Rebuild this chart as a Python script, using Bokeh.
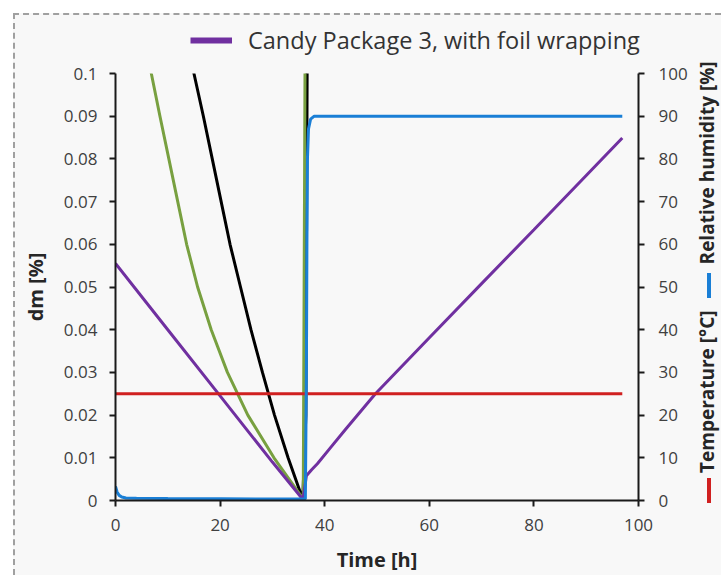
from bokeh.plotting import figure
from bokeh.layouts import column, row
from bokeh.models import Range1d, LinearAxis, FixedTicker, Legend, LegendItem, Div
from bokeh.embed import file_html
from bokeh.resources import INLINE

# ---- data ----
x_ticks = [0, 20, 40, 60, 80, 100]
y_ticks = [0, 0.01, 0.02, 0.03, 0.04, 0.05, 0.06, 0.07, 0.08, 0.09, 0.1]
y_tick_labels = ["0", "0.01", "0.02", "0.03", "0.04", "0.05", "0.06", "0.07", "0.08", "0.09", "0.1"]
rh_ticks = [0, 10, 20, 30, 40, 50, 60, 70, 80, 90, 100]

# Candy Package 3, with foil wrapping (dm [%])
purple_t = [0, 10, 20, 30, 35.8, 36.0, 36.5, 37.5, 38.6, 41, 44, 49.7, 60, 70, 80, 90, 96.9]
purple_dm = [0.0555, 0.0400, 0.0245, 0.0090, 0.0003, 0.0015, 0.0058, 0.0072, 0.0086,
             0.0122, 0.0167, 0.025, 0.0381, 0.0508, 0.0634, 0.0761, 0.0849]

# green series (dm [%])
green_t = [5.5, 6.85, 8.5, 10.2, 11.9, 13.6, 15.7, 18.3, 21.4, 25.3, 30.3, 35.9, 36.3]
green_dm = [0.11, 0.1, 0.09, 0.08, 0.07, 0.06, 0.05, 0.04, 0.03, 0.02, 0.01, 0.0003, 0.12]

# black series (dm [%])
black_t = [14.1, 15.0, 16.8, 18.5, 20.2, 21.9, 23.9, 25.9, 28.1, 30.4, 33.0, 35.8, 36.4, 36.7]
black_dm = [0.105, 0.1, 0.09, 0.08, 0.07, 0.06, 0.05, 0.04, 0.03, 0.02, 0.01, 0.0003, 0.02, 0.12]

# Relative humidity [%]
rh_t = [0, 0.3, 0.7, 1.2, 2, 4, 10, 20, 30, 36.3, 36.5, 36.6, 36.7, 36.9, 37.3, 38, 50, 70, 90, 96.9]
rh_val = [3.3, 2.0, 1.2, 0.8, 0.6, 0.5, 0.45, 0.4, 0.35, 0.35, 30, 60, 80, 87, 89.3, 90, 90, 90, 90, 90]

# Temperature [°C]
temp_t = [0, 96.9]
temp_val = [25, 25]

legend_label = "Candy Package 3, with foil wrapping"
x_title = "Time [h]"
y_title = "dm [%]"
temp_title = "Temperature [°C]"
rh_title = "Relative humidity [%]"

# ---- styles ----
PURPLE = "#7030a0"
GREEN = "#78a040"
BLACK = "#000000"
BLUE = "#1a7fd6"
RED = "#d02020"
TXT = "#404040"
LBL = "#262626"
BG = "#f8f8f8"
FONT = "Open Sans"


def blank(fig):
    fig.background_fill_color = BG
    fig.border_fill_color = BG
    fig.outline_line_color = None
    fig.grid.visible = False


# ---- main chart ----
p = figure(width=678, height=515, x_range=Range1d(0, 100), y_range=Range1d(0, 0.1),
           output_backend="svg", toolbar_location=None,
           min_border_left=100, min_border_right=55, min_border_top=13, min_border_bottom=73)
blank(p)
p.extra_y_ranges = {"rh": Range1d(0, 100)}

p.line(black_t, black_dm, line_color=BLACK, line_width=3)
p.line(green_t, green_dm, line_color=GREEN, line_width=3)
p.line(purple_t, purple_dm, line_color=PURPLE, line_width=3)
p.line(temp_t, temp_val, line_color=RED, line_width=3, y_range_name="rh")
p.line(rh_t, rh_val, line_color=BLUE, line_width=3, y_range_name="rh")

right = LinearAxis(y_range_name="rh")
p.add_layout(right, "right")

for ax in [p.xaxis[0], p.yaxis[0], right]:
    ax.axis_line_width = 2
    ax.axis_line_color = "#1a1a1a"
    ax.major_tick_line_width = 2
    ax.major_tick_line_color = "#1a1a1a"
    ax.major_tick_out = 6
    ax.major_tick_in = 0
    ax.minor_tick_out = 0
    ax.minor_tick_in = 0
    ax.major_label_text_font = FONT
    ax.major_label_text_font_size = "17px"
    ax.major_label_text_color = TXT
    ax.major_label_standoff = 12
    ax.axis_label_text_font = FONT
    ax.axis_label_text_font_size = "20px"
    ax.axis_label_text_font_style = "bold"
    ax.axis_label_text_color = LBL

p.xaxis.ticker = FixedTicker(ticks=x_ticks)
p.xaxis.axis_label = x_title
p.xaxis.axis_label_standoff = 12
p.yaxis[0].ticker = FixedTicker(ticks=y_ticks)
p.yaxis[0].major_label_overrides = dict(zip(y_ticks, y_tick_labels))
p.yaxis[0].axis_label = y_title
p.yaxis[0].axis_label_standoff = 12
right.ticker = FixedTicker(ticks=rh_ticks)
right.major_label_standoff = 14

# ---- legend strip above the chart (its key line lies outside this strip's range) ----
top = figure(width=706, height=45, x_range=Range1d(0, 706), y_range=Range1d(1000, 1045),
             output_backend="svg", toolbar_location=None, min_border=0,
             x_axis_location=None, y_axis_location=None)
blank(top)
key = top.line(purple_t, purple_dm, line_color=PURPLE, line_width=6)
top.add_layout(Legend(items=[LegendItem(label=legend_label, renderers=[key])],
                      location=(175, 4), padding=0, margin=0, spacing=0,
                      glyph_width=42, glyph_height=20, label_standoff=16,
                      label_text_font=FONT, label_text_font_size="23.5px",
                      label_text_color="#333333",
                      border_line_color=None, background_fill_alpha=0))

# ---- right-hand axis titles with coloured keys ----
dash = ('<span style="display:inline-block;width:25px;height:4px;background:{c};'
        'vertical-align:middle;margin:0 {r}px 0 {l}px;"></span>')
side_html = (
    '<div style="position:relative;width:28px;height:515px;">'
    '<div style="position:absolute;left:0;top:443px;transform:rotate(-90deg);'
    'transform-origin:0 0;white-space:nowrap;height:28px;line-height:28px;'
    "font-family:'Open Sans';font-size:19px;font-weight:bold;color:" + LBL + ';">'
    + dash.format(c=RED, l=0, r=5) + temp_title
    + dash.format(c=BLUE, l=12, r=9) + rh_title
    + '</div></div>'
)
side = Div(text=side_html, width=28, height=515, margin=0,
           styles={"overflow": "visible", "background-color": BG})

layout = column(top, row(p, side, spacing=0), spacing=0, margin=(13, 0, 0, 13))
layout.styles = {"border-top": "2px dashed #a0a0a0", "border-left": "2px dashed #a0a0a0",
                 "background-color": BG}

open("out.html", "w").write(file_html(layout, INLINE))
